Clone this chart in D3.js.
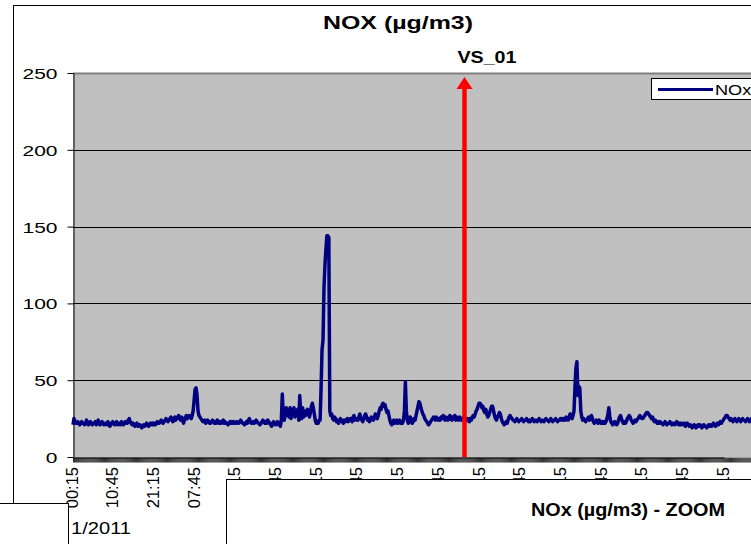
<!DOCTYPE html>
<html>
<head>
<meta charset="utf-8">
<script src="https://cdn.jsdelivr.net/npm/d3@7"></script>
<style>
  html, body { margin: 0; padding: 0; background: #fff; }
  svg { display: block; font-family: "Liberation Sans", Arial, sans-serif; }
</style>
</head>
<body>
<svg id="chart" width="751" height="544"></svg>
<script>
// NOx concentration, 15-minute readings (µg/m3), one block per 42 readings
const noxBlocks = [
  [21,25,23,22,22,23,22,21,22,23,22,22,21,22,24,22,21,22,23,22,21,22,22,23,21,22,24,22,21,22,23,22,21,22,22,21,23,22,20,21,22,23],
  [22,21,22,23,21,22,22,21,23,22,21,22,23,22,22,24,25,23,22,21,22,21,20,21,22,20,21,21,20,19,20,21,20,21,22,21,20,21,22,21,22,21],
  [22,21,22,23,22,22,23,24,23,22,23,24,25,24,23,24,25,26,24,23,25,26,24,25,26,27,25,24,26,25,22,24,26,27,25,26,27,26,25,27,30,37],
  [44,45,40,30,27,26,25,24,23,23,24,22,23,24,23,22,22,23,24,23,22,23,22,24,23,22,23,22,23,24,22,23,22,22,21,22,23,22,23,22,23,22],
  [22,23,22,22,23,24,23,22,22,21,22,23,22,24,25,23,22,22,23,22,23,24,23,22,22,21,22,23,24,23,22,23,22,24,23,22,21,20,22,23,22,21],
  [22,23,21,22,20,24,41,26,24,28,32,27,31,26,32,25,31,28,32,26,30,27,31,24,40,28,25,32,26,30,27,29,31,28,26,29,33,35,32,28,24,22],
  [23,22,24,24,45,70,76,110,125,135,144,144,143,30,27,28,25,24,26,25,23,24,22,23,25,24,23,22,24,23,24,25,23,24,25,24,23,26,27,24,25,24],
  [24,26,28,25,24,23,25,27,28,26,24,25,23,24,26,25,24,26,28,27,25,27,30,32,31,34,35,33,34,31,29,30,27,24,22,21,23,24,22,23,24,22],
  [23,24,22,23,22,24,30,49,30,24,22,23,26,24,22,23,25,24,27,30,33,36,35,32,30,28,27,25,24,23,22,21,22,23,24,25,26,25,24,26,25,24],
  [25,24,26,25,27,25,24,26,25,24,26,27,25,24,26,25,27,24,26,25,24,26,25,24,25,26,24,23,24,25,24,23,25,24,26,27,26,28,30,31,33,35],
  [35,34,32,33,30,29,31,28,26,27,29,31,33,33,30,27,25,24,26,27,29,28,25,23,22,21,22,23,22,24,26,27,26,25,24,24,23,24,25,24,23,24],
  [24,25,24,23,24,24,25,24,23,24,23,24,25,24,23,24,24,23,24,25,24,23,24,24,23,24,25,24,24,23,24,25,24,23,24,24,25,24,23,24,24,25],
  [24,25,24,25,24,26,25,24,26,28,26,25,27,30,45,58,62,40,46,45,30,26,24,25,24,23,24,25,26,24,25,27,25,23,22,23,24,23,22,24,23,22],
  [23,22,23,22,23,25,28,32,26,23,22,21,22,23,22,21,22,24,26,27,25,23,22,23,22,23,25,26,27,26,24,23,22,23,24,23,24,25,26,27,26,25],
  [25,26,27,28,29,29,28,27,26,25,26,24,23,24,23,22,23,22,23,22,22,21,22,23,22,21,22,22,23,22,21,22,22,21,22,23,22,21,22,21,22,21],
  [21,22,20,21,22,21,20,21,20,19,20,21,20,19,20,21,20,21,20,19,20,21,20,20,19,20,21,20,21,20,21,22,21,20,21,22,21,22,23,22,23,24],
  [25,26,27,27,26,25,24,25,24,23,24,25,24,23,24,25,24,23,24,25,24,24,23,24,25,24,23,24,25,24,23,24,25,24]
];
const noxValues = noxBlocks.flat();

// Time labels, one every 42 readings (10 h 30 min)
const timeLabels = ["00:15","10:45","21:15","07:45","18:15","04:45","15:15","01:45","12:15",
                    "22:45","09:15","19:45","06:15","16:45","03:15","13:45","00:15"];
const labelEvery = 42;

const yTicks = [0, 50, 100, 150, 200, 250];

// Station marker on the time axis
const stationMarks = [{ name: "VS_01", at: 404 }];

const seriesName = "NOx";
const chartTitle = "NOX (µg/m3)";

const svg = d3.select("#chart");

const plot = { left: 73, top: 73, bottom: 457, right: 800 };

const x = d3.scaleLinear()
  .domain([0, labelEvery * 16])
  .range([plot.left, 724.2]);
const y = d3.scaleLinear()
  .domain([0, 250])
  .range([plot.bottom, plot.top]);

// chart frame
svg.append("rect").attr("x", 13.5).attr("y", 5.5).attr("width", 900).attr("height", 700)
  .attr("fill", "#fff").attr("stroke", "#000").attr("stroke-width", 1);

// title
svg.append("text").attr("x", 398).attr("y", 29).attr("text-anchor", "middle")
  .attr("font-size", 19).attr("font-weight", "bold")
  .attr("textLength", 150).attr("lengthAdjust", "spacingAndGlyphs")
  .text(chartTitle);

// plot area
svg.append("rect").attr("x", plot.left).attr("y", plot.top)
  .attr("width", plot.right - plot.left).attr("height", plot.bottom - plot.top)
  .attr("fill", "#C0C0C0");

// gridlines
svg.append("g").selectAll("line").data(yTicks.filter(d => d > 0 && d < 250)).join("line")
  .attr("x1", plot.left).attr("x2", plot.right)
  .attr("y1", d => Math.round(y(d)) + 0.5).attr("y2", d => Math.round(y(d)) + 0.5)
  .attr("stroke", "#000").attr("stroke-width", 1);

svg.append("line").attr("x1", plot.left).attr("x2", plot.right)
  .attr("y1", y(250) + 0.5).attr("y2", y(250) + 0.5)
  .attr("stroke", "#808080").attr("stroke-width", 2);

// y axis
const yAxis = svg.append("g")
  .attr("transform", `translate(${plot.left + 0.5},0)`)
  .call(d3.axisLeft(y).tickValues(yTicks).tickSize(6).tickSizeOuter(0));
yAxis.select(".domain").attr("stroke", "#000");
yAxis.selectAll(".tick line").attr("stroke", "#000");
yAxis.selectAll(".tick text")
  .attr("font-size", 15).attr("font-family", "Liberation Sans, Arial, sans-serif")
  .attr("fill", "#000")
  .attr("x", -11.4).attr("dy", "0.36em")
  .attr("transform", "scale(1.4,1)");

// x axis: a tick at every reading
const xAxis = svg.append("g")
  .attr("transform", `translate(0,${plot.bottom + 0.5})`)
  .call(d3.axisBottom(x).tickValues(d3.range(0, 760)).tickSize(5).tickSizeOuter(0).tickFormat(""));
xAxis.select(".domain").attr("stroke", "#000");
xAxis.selectAll(".tick line").attr("stroke", "#000").attr("stroke-width", 0.8);

// x tick labels
svg.append("g").selectAll("text").data(timeLabels).join("text")
  .attr("transform", (d, i) => `translate(${x(i * labelEvery) + 4.5},467) rotate(-90)`)
  .attr("text-anchor", "end")
  .attr("font-size", 16.5)
  .text(d => d);

// NOx series
const line = d3.line().x((d, i) => x(i)).y(d => y(d));
svg.append("path").datum(noxValues)
  .attr("d", line)
  .attr("fill", "none").attr("stroke", "#000080").attr("stroke-width", 3.5)
  .attr("stroke-linejoin", "round");

// station marker arrow
stationMarks.forEach(m => {
  const mx = x(m.at);
  svg.append("line").attr("x1", mx).attr("x2", mx).attr("y1", y(0)).attr("y2", 86)
    .attr("stroke", "#FF0000").attr("stroke-width", 4.5);
  svg.append("path").attr("d", `M${mx},77 L${mx - 8},89 L${mx + 8},89 Z`).attr("fill", "#FF0000");
  svg.append("text").attr("x", mx + 22.5).attr("y", 63).attr("text-anchor", "middle")
    .attr("font-size", 16).attr("font-weight", "bold")
    .attr("textLength", 59).attr("lengthAdjust", "spacingAndGlyphs")
    .text(m.name);
});

// legend
const lg = svg.append("g");
lg.append("rect").attr("x", 651.5).attr("y", 78.5).attr("width", 200).attr("height", 21)
  .attr("fill", "#fff").attr("stroke", "#000");
lg.append("line").attr("x1", 658).attr("x2", 713).attr("y1", 89.5).attr("y2", 89.5)
  .attr("stroke", "#000080").attr("stroke-width", 3);
lg.append("text").attr("x", 715).attr("y", 95).attr("font-size", 14)
  .attr("transform", "translate(715,0) scale(1.3,1) translate(-715,0)")
  .text(seriesName);

// neighbouring panels overlapping the chart's lower edge
svg.append("rect").attr("x", -5).attr("y", 503.5).attr("width", 73.5).attr("height", 80)
  .attr("fill", "#fff").attr("stroke", "#000");
svg.append("text").attr("x", 71).attr("y", 534).attr("font-size", 17)
  .attr("textLength", 60).attr("lengthAdjust", "spacingAndGlyphs")
  .text("1/2011");

svg.append("rect").attr("x", 226.5).attr("y", 479.5).attr("width", 700).attr("height", 100)
  .attr("fill", "#fff").attr("stroke", "#000");
svg.append("text").attr("x", 531).attr("y", 516).attr("font-size", 19).attr("font-weight", "bold")
  .attr("textLength", 194).attr("lengthAdjust", "spacingAndGlyphs")
  .text("NOx (µg/m3) - ZOOM");
</script>
</body>
</html>
